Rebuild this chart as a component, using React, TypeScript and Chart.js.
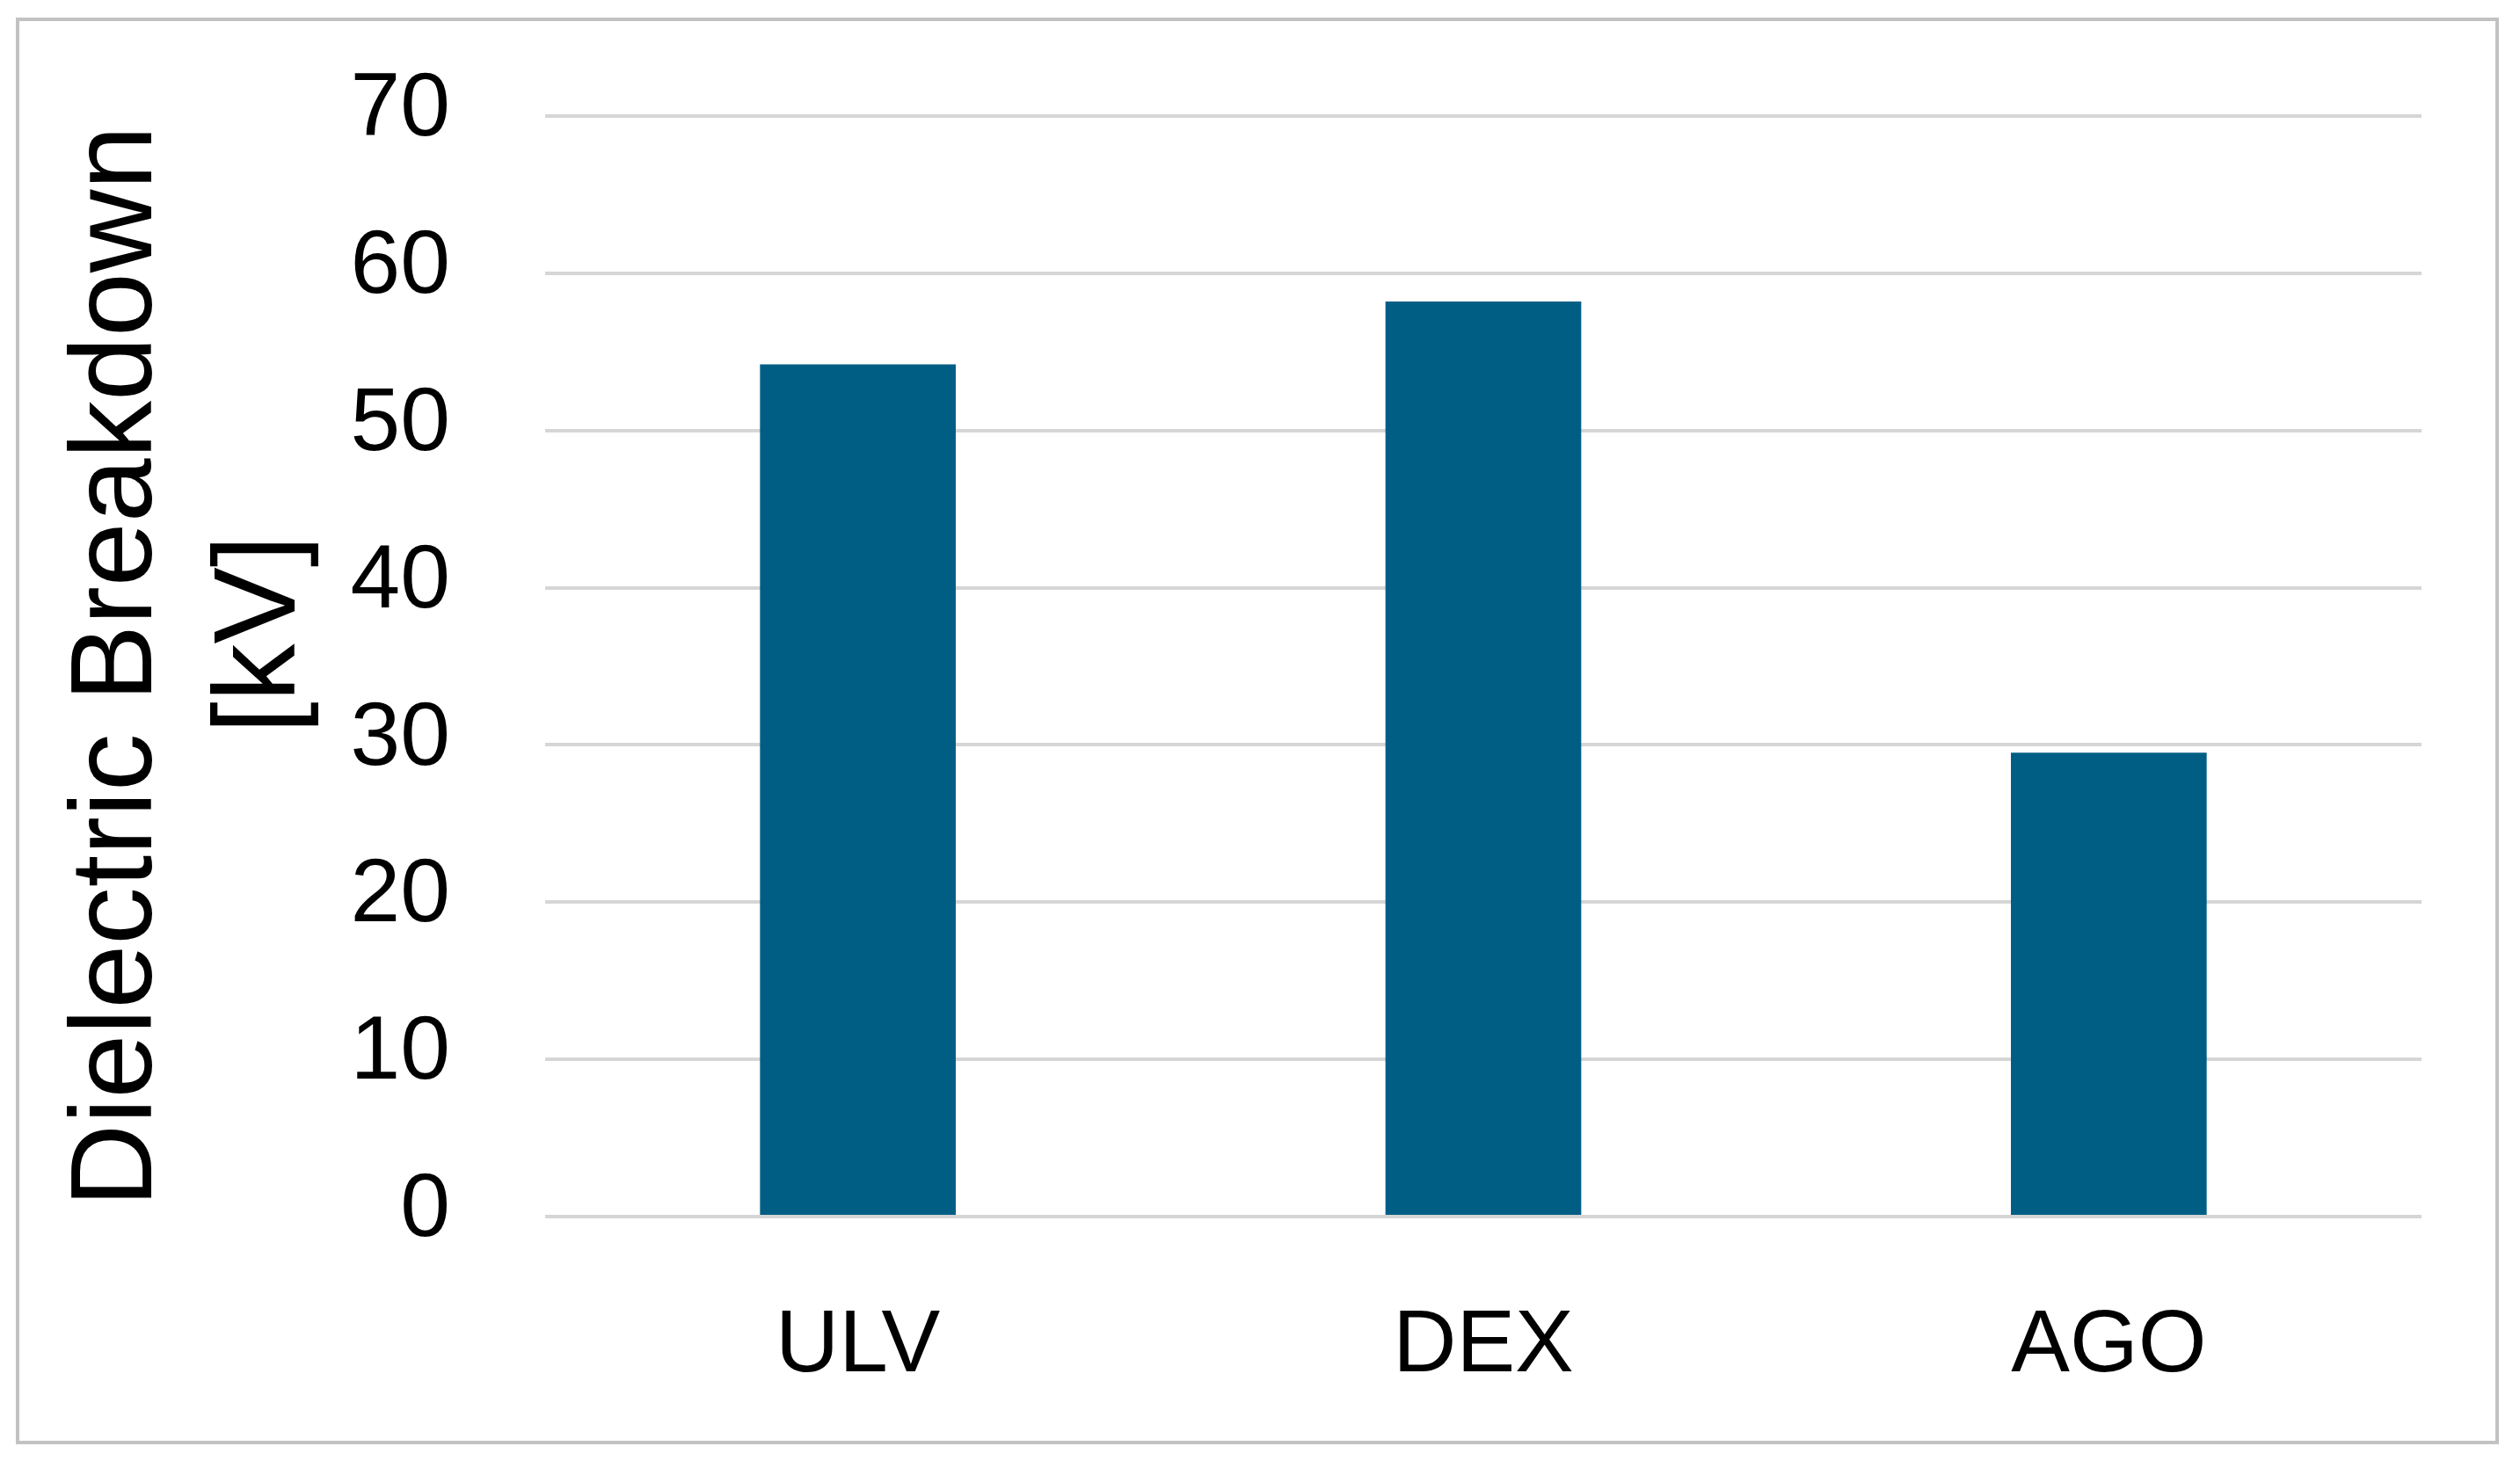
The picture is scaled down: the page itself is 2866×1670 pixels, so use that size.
import React, { useEffect, useRef } from "react";
import { Chart, registerables } from "chart.js";

Chart.register(...registerables);

const categories = ["ULV", "DEX", "AGO"];
const breakdownValues = [54.2, 58.2, 29.5];
const yTickValues = [0, 10, 20, 30, 40, 50, 60, 70];
const yTitleLines = ["Dielectric Breakdown", "  [kV]"];

const W = 2866;
const H = 1670;

const framePlugin = {
  id: "frame",
  beforeDraw(chart: any) {
    const ctx = chart.ctx;
    ctx.save();
    ctx.fillStyle = "#ffffff";
    ctx.fillRect(0, 0, W, H);
    ctx.strokeStyle = "#c2c2c2";
    ctx.lineWidth = 4;
    ctx.strokeRect(20, 22, 2820, 1619);
    ctx.restore();
  },
};

export default function App() {
  const ref = useRef<HTMLCanvasElement | null>(null);

  useEffect(() => {
    if (!ref.current) return;
    const tickFamily = "'Liberation Sans', Arial, sans-serif";
    const chart = new Chart(ref.current, {
      type: "bar",
      data: {
        labels: categories,
        datasets: [
          {
            label: "Dielectric Breakdown",
            data: breakdownValues,
            backgroundColor: "#005E85",
            borderWidth: 0,
            categoryPercentage: 1,
            barPercentage: 0.313,
          },
        ],
      },
      options: {
        animation: false,
        responsive: false,
        devicePixelRatio: 1,
        layout: { padding: { left: 0, top: 132, right: 112, bottom: 0 } },
        plugins: {
          legend: { display: false },
          tooltip: { enabled: false },
        },
        scales: {
          x: {
            grid: { display: false },
            border: { display: false },
            ticks: {
              color: "#000000",
              padding: 80,
              font: { family: tickFamily, size: 100 },
            },
            afterFit(scale: any) {
              scale.height = 286;
              scale.paddingLeft = 0;
              scale.paddingRight = 0;
            },
          },
          y: {
            min: 0,
            max: 70,
            afterBuildTicks(scale: any) {
              scale.ticks = yTickValues.map((v) => ({ value: v }));
            },
            grid: {
              color: "#d6d6d6",
              lineWidth: 4,
              drawTicks: false,
            },
            border: { display: false },
            ticks: {
              color: "#000000",
              padding: 108,
              labelOffset: -6,
              font: { family: tickFamily, size: 102 },
            },
            title: {
              display: true,
              text: yTitleLines,
              color: "#000000",
              padding: { top: 55, bottom: 0 },
              font: { family: tickFamily, size: 131, lineHeight: 1.24 },
            },
            afterFit(scale: any) {
              scale.width = 620;
              scale.paddingTop = 0;
              scale.paddingBottom = 0;
            },
          },
        },
      },
      plugins: [framePlugin],
    });
    return () => chart.destroy();
  }, []);

  return (
    <div style={{ position: "absolute", left: 0, top: 0, width: W, height: H, background: "#fff" }}>
      <canvas ref={ref} width={W} height={H} style={{ width: W, height: H, display: "block" }} />
    </div>
  );
}
